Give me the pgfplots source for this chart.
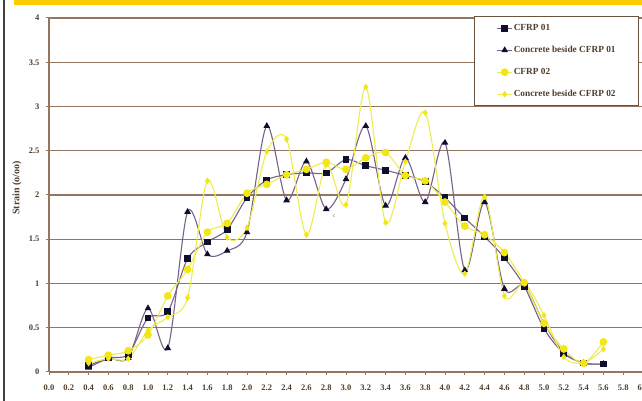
\documentclass[border=0pt]{standalone}
\usepackage{fontspec}
\setmainfont{Liberation Serif}
\usepackage{pgfplots}
\pgfplotsset{compat=1.18}
\definecolor{gridbrown}{RGB}{148,118,96}
\definecolor{legbrown}{RGB}{105,82,62}
\definecolor{banner}{RGB}{255,204,0}
\definecolor{purpline}{RGB}{118,98,138}
\definecolor{darkmark}{RGB}{15,15,45}
\definecolor{yline}{RGB}{238,236,80}
\definecolor{ymark}{RGB}{242,230,20}
\definecolor{labelbrown}{RGB}{80,62,45}

\pgfplotstableread{
x y
0.4 0.07
0.6 0.16
0.8 0.20
1.0 0.61
1.2 0.68
1.4 1.28
1.6 1.47
1.8 1.61
2.0 1.97
2.2 2.17
2.4 2.23
2.6 2.25
2.8 2.25
3.0 2.40
3.2 2.33
3.4 2.28
3.6 2.22
3.8 2.15
4.0 1.97
4.2 1.74
4.4 1.53
4.6 1.29
4.8 0.97
5.0 0.49
5.2 0.21
5.4 0.10
5.6 0.09
}\cfrpone

\pgfplotstableread{
x y
0.4 0.05
0.6 0.15
0.8 0.16
1.0 0.72
1.2 0.27
1.4 1.81
1.6 1.33
1.8 1.37
2.0 1.58
2.2 2.78
2.4 1.94
2.6 2.38
2.8 1.84
3.0 2.18
3.2 2.78
3.4 1.88
3.6 2.42
3.8 1.92
4.0 2.59
4.2 1.15
4.4 1.92
4.6 0.94
4.8 0.98
5.0 0.55
5.2 0.22
5.4 0.10
5.6 0.09
}\concone

\pgfplotstableread{
x y
0.4 0.14
0.6 0.19
0.8 0.24
1.0 0.42
1.2 0.86
1.4 1.16
1.6 1.58
1.8 1.68
2.0 2.02
2.2 2.12
2.4 2.23
2.6 2.29
2.8 2.37
3.0 2.29
3.2 2.42
3.4 2.48
3.6 2.22
3.8 2.16
4.0 1.92
4.2 1.65
4.4 1.55
4.6 1.35
4.8 1.01
5.0 0.55
5.2 0.26
5.4 0.10
5.6 0.34
}\cfrptwo

\pgfplotstableread{
x y
0.4 0.10
0.6 0.15
0.8 0.15
1.0 0.47
1.2 0.62
1.4 0.84
1.6 2.16
1.8 1.52
2.0 1.63
2.2 2.49
2.4 2.63
2.6 1.55
2.8 2.34
3.0 1.89
3.2 3.22
3.4 1.69
3.6 2.38
3.8 2.93
4.0 1.68
4.2 1.11
4.4 1.98
4.6 0.86
4.8 1.00
5.0 0.64
5.2 0.17
5.4 0.10
5.6 0.26
}\conctwo

\begin{document}
\begin{tikzpicture}[x=1pt,y=1pt]
\useasboundingbox (0,0) rectangle (642,401);
\clip (0,0) rectangle (642,401);
\fill[white] (0,0) rectangle (642,401);
\fill[banner] (14,396) rectangle (642,401);
\draw[line width=1.3pt, black!75] (4,0) -- (4,401);
\begin{axis}[
  at={(49pt,29pt)}, anchor=south west,
  scale only axis, width=594pt, height=354pt,
  xmin=0, xmax=6, ymin=0, ymax=4,
  clip=false,
  axis x line*=bottom, axis y line*=left,
  axis line style={gridbrown, line width=1.2pt},
  ymajorgrids, grid style={gridbrown, line width=1.2pt},
  tick style={gridbrown, line width=1pt},
  tick align=outside, major tick length=3pt,
  xtick={0,0.2,0.4,0.6,0.8,1.0,1.2,1.4,1.6,1.8,2.0,2.2,2.4,2.6,2.8,3.0,3.2,3.4,3.6,3.8,4.0,4.2,4.4,4.6,4.8,5.0,5.2,5.4,5.6,5.8,6.0},
  xticklabels={0.0,0.2,0.4,0.6,0.8,1.0,1.2,1.4,1.6,1.8,2.0,2.2,2.4,2.6,2.8,3.0,3.2,3.4,3.6,3.8,4.0,4.2,4.4,4.6,4.8,5.0,5.2,5.4,5.6,5.8,6.0},
  ytick={0,0.5,1,1.5,2,2.5,3,3.5,4},
  yticklabels={0,0.5,1,1.5,2,2.5,3,3.5,4},
  xticklabel style={font=\bfseries\fontsize{8.5}{9}\selectfont, text=labelbrown, yshift=-6.5pt},
  yticklabel style={font=\bfseries\fontsize{8.5}{9}\selectfont, text=labelbrown, xshift=-3pt},
  ylabel={Strain (o/oo)},
  ylabel style={font=\bfseries\fontsize{10}{11}\selectfont, text=labelbrown, at={(axis description cs:-0.054,0.52)}, anchor=center},
  legend cell align=left,
  legend image code/.code={\draw[mark repeat=2,mark phase=2,#1] plot coordinates {(0pt,0pt) (7.5pt,0pt) (15pt,0pt)};},
  legend style={at={(axis description cs:0.7155,1.0056)}, anchor=north west,
    draw=legbrown, line width=1.3pt, fill=white,
    font=\bfseries\fontsize{9.3}{10}\selectfont, text=labelbrown,
    inner xsep=22pt, inner ysep=0.5pt, row sep=0pt,
    nodes={inner sep=1pt, minimum height=22pt}},
]
\addplot[smooth, purpline, line width=1.1pt, mark=square*, mark size=2.8pt, mark options={darkmark, fill=darkmark}] table[x=x,y=y] {\cfrpone};
\addlegendentry{CFRP 01}
\addplot[smooth, purpline, line width=1.1pt, mark=triangle*, mark size=2.8pt, mark options={darkmark, fill=darkmark}] table[x=x,y=y] {\concone};
\addlegendentry{Concrete beside CFRP 01}
\addplot[smooth, yline, line width=1.1pt, mark=*, mark size=3.3pt, mark options={ymark, fill=ymark}] table[x=x,y=y] {\cfrptwo};
\addlegendentry{CFRP 02}
\addplot[smooth, yline, line width=1.1pt, mark=diamond*, mark size=2.4pt, mark options={ymark, fill=ymark}] table[x=x,y=y] {\conctwo};
\addlegendentry{Concrete beside CFRP 02}
\node[font=\fontsize{5}{5}\selectfont, text=black!60] at (axis cs:2.88,1.76) {c};
\end{axis}
\end{tikzpicture}
\end{document}
